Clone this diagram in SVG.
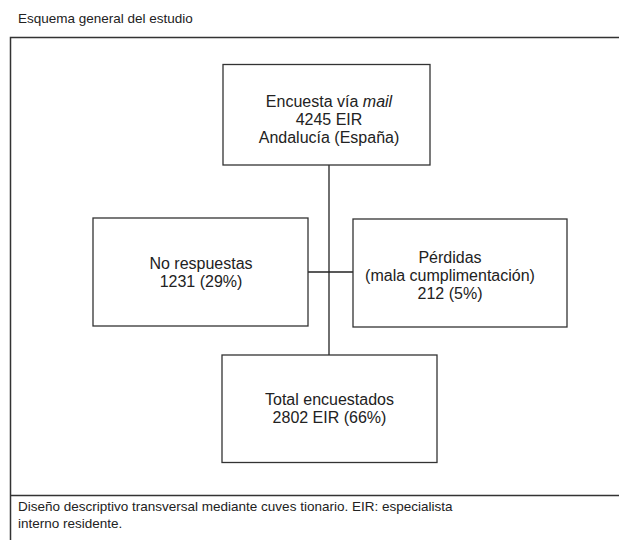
<svg xmlns="http://www.w3.org/2000/svg" width="619" height="540" viewBox="0 0 619 540">
<style>
text{font-family:"Liberation Sans",Arial,sans-serif;font-size:13.5px;fill:#222}
.c{text-anchor:middle;font-size:16px}
.box{fill:#fff;stroke:#333;stroke-width:1.3}
.ln{stroke:#222;stroke-width:1.3;fill:none}
.fr{stroke:#333;stroke-width:1.5;fill:none}
</style>
<rect width="619" height="540" fill="#fff"/>
<text x="18" y="23">Esquema general del estudio</text>
<path class="fr" d="M10.5 540V37.5H619"/>
<path class="fr" d="M10.5 495.5H619"/>
<g id="connectors">
<path class="ln" d="M329 165V355"/>
<path class="ln" d="M308 272H353"/>
</g>
<g id="encuesta">
<rect class="box" x="223" y="64.5" width="207" height="100.5"/>
<text class="c" x="329" y="107">Encuesta vía <tspan font-style="italic">mail</tspan></text>
<text class="c" x="329" y="125">4245 EIR</text>
<text class="c" x="329" y="143">Andalucía (España)</text>
</g>
<g id="norespuestas">
<rect class="box" x="93" y="218" width="215" height="108"/>
<text class="c" x="201" y="269">No respuestas</text>
<text class="c" x="201" y="287">1231 (29%)</text>
</g>
<g id="perdidas">
<rect class="box" x="353" y="219" width="214" height="108"/>
<text class="c" x="450" y="263">Pérdidas</text>
<text class="c" x="450" y="281">(mala cumplimentación)</text>
<text class="c" x="450" y="299">212 (5%)</text>
</g>
<g id="total">
<rect class="box" x="222" y="355" width="215" height="107.5"/>
<text class="c" x="329.5" y="405">Total encuestados</text>
<text class="c" x="329.5" y="423">2802 EIR (66%)</text>
</g>
<text x="18" y="511">Diseño descriptivo transversal mediante cuves tionario. EIR: especialista</text>
<text x="18" y="528">interno residente.</text>
</svg>
